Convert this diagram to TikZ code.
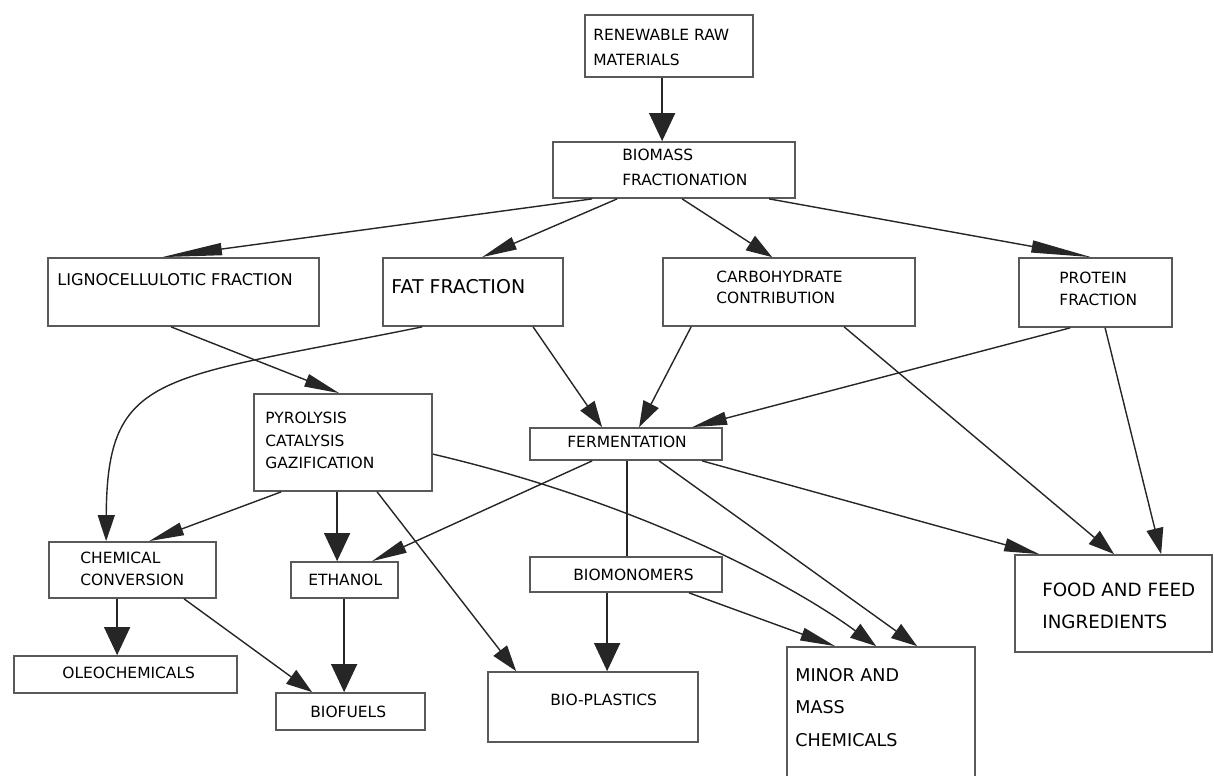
\documentclass[tikz,border=0pt]{standalone}
\usepackage{fontspec}
\setmainfont{DejaVu Sans}
\usetikzlibrary{arrows.meta,fit}

\tikzset{
  box/.style={draw=black!65, line width=1pt, inner sep=0pt},
  txt/.style={anchor=west, align=left, inner sep=0pt, font=\fontsize{8.8}{14.2}\selectfont},
  bigtxt/.style={txt, font=\fontsize{10.4}{18.2}\selectfont},
  link/.style={draw=black!85, line width=0.8pt},
  vhead/.style={link, -{Triangle[length=0.56cm, width=0.52cm]}},
  dhead/.style={link, -{Triangle[length=0.52cm, width=0.34cm]}},
  shead/.style={link, -{Triangle[length=0.70cm, width=0.26cm]}},
  lhead/.style={link, -{Triangle[length=1.20cm, width=0.24cm]}},
}

\begin{document}
\begin{tikzpicture}[x=0.02cm, y=-0.02cm]
      \useasboundingbox (0,0) rectangle (1214,775);

      \node[box, fit={(585,15) (753,77)}](RRM) {};
      \node[box, fit={(553,142) (795,198)}](BF) {};
      \node[box, fit={(48,258) (319,326)}](LIG) {};
      \node[box, fit={(383,258) (563,326)}](FAT) {};
      \node[box, fit={(663,258) (915,326)}](CARB) {};
      \node[box, fit={(1019,258) (1172,327)}](PROT) {};
      \node[box, fit={(254,394) (432,491)}](PYR) {};
      \node[box, fit={(530,428) (722,460)}](FERM) {};
      \node[box, fit={(49,542) (216,598)}](CHEM) {};
      \node[box, fit={(291,562) (398,598)}](ETH) {};
      \node[box, fit={(530,557) (722,592)}](BIOMON) {};
      \node[box, fit={(14,656) (237,693)}](OLEO) {};
      \node[box, fit={(276,693) (425,730)}](BIOF) {};
      \node[box, fit={(488,672) (698,742)}](BIOPL) {};
      \node[box, fit={(787,647) (975,778)}](MINOR) {};
      \node[box, fit={(1015,555) (1212,652)}](FOOD) {};

      \node[txt](RRMt) at (593,47.5) {RENEWABLE RAW\\MATERIALS};
      \node[txt](BFt) at (622,167.5) {BIOMASS\\FRACTIONATION};
      \node[txt, font=\fontsize{9.2}{14}\selectfont](LIGt) at (57,280) {LIGNOCELLULOTIC FRACTION};
      \node[txt, font=\fontsize{10.8}{14}\selectfont](FATt) at (391,287) {FAT FRACTION};
      \node[txt, font=\fontsize{8.8}{12}\selectfont](CARBt) at (716,287.5) {CARBOHYDRATE\\CONTRIBUTION};
      \node[txt, font=\fontsize{8.8}{12.5}\selectfont](PROTt) at (1059,289) {PROTEIN\\FRACTION};
      \node[txt, font=\fontsize{8.8}{12.8}\selectfont](PYRt) at (265,440.5) {PYROLYSIS\\CATALYSIS\\GAZIFICATION};
      \node[txt](FERMt) at (567,442) {FERMENTATION};
      \node[txt, font=\fontsize{8.8}{12.5}\selectfont](CHEMt) at (80,569) {CHEMICAL\\CONVERSION};
      \node[txt](ETHt) at (308,580) {ETHANOL};
      \node[txt](BIOMONt) at (573,575) {BIOMONOMERS};
      \node[txt](OLEOt) at (62,673) {OLEOCHEMICALS};
      \node[txt](BIOFt) at (310,712) {BIOFUELS};
      \node[txt](BIOPLt) at (550,700) {BIO-PLASTICS};
      \node[bigtxt, font=\fontsize{10}{18.4}\selectfont](MINORt) at (795,707.5) {MINOR AND\\MASS\\CHEMICALS};
      \node[bigtxt](FOODt) at (1042,606) {FOOD AND FEED\\INGREDIENTS};

      \draw[vhead] ([shift={(78,0)}]RRM.south west) -- ([shift={(110,0)}]BF.north west);
      \draw[lhead] ([shift={(40,0)}]BF.south west) -- ([shift={(115,0)}]LIG.north west);
      \draw[shead] ([shift={(65,0)}]BF.south west) -- ([shift={(100,0)}]FAT.north west);
      \draw[dhead] ([shift={(130,0)}]BF.south west) -- ([shift={(110,0)}]CARB.north west);
      \draw[lhead] ([shift={(217,0)}]BF.south west) -- ([shift={(73,0)}]PROT.north west);

      \draw[shead] ([shift={(124,0)}]LIG.south west) -- ([shift={(86,0)}]PYR.north west);
      \draw[dhead] ([shift={(40,0)}]FAT.south west) .. controls (160,380) and (107,370) .. ([shift={(58,0)}]CHEM.north west);
      \draw[dhead] ([shift={(151,0)}]FAT.south west) -- ([shift={(73,0)}]FERM.north west);
      \draw[dhead] ([shift={(29,0)}]CARB.south west) -- ([shift={(110,0)}]FERM.north west);
      \draw[shead] ([shift={(52,0)}]PROT.south west) -- ([shift={(163,0)}]FERM.north west);
      \draw[dhead] ([shift={(182,0)}]CARB.south west) -- ([shift={(100,0)}]FOOD.north west);
      \draw[dhead] ([shift={(87,0)}]PROT.south west) -- ([shift={(147,0)}]FOOD.north west);

      \draw[shead] ([shift={(28,0)}]PYR.south west) -- ([shift={(101,0)}]CHEM.north west);
      \draw[vhead] ([shift={(84,0)}]PYR.south west) -- ([shift={(47,0)}]ETH.north west);
      \draw[dhead] ([shift={(124,0)}]PYR.south west) -- ([shift={(29,0)}]BIOPL.north west);
      \draw[dhead] ([shift={(0,61)}]PYR.north east) .. controls (650,505) and (800,590) .. ([shift={(90,0)}]MINOR.north west);
      \draw[shead] ([shift={(63,0)}]FERM.south west) -- ([shift={(82,0)}]ETH.north west);
      \draw[link] ([shift={(98,0)}]FERM.south west) -- ([shift={(98,0)}]BIOMON.north west);
      \draw[dhead] ([shift={(130,0)}]FERM.south west) -- ([shift={(131,0)}]MINOR.north west);
      \draw[shead] ([shift={(173,0)}]FERM.south west) -- ([shift={(25,0)}]FOOD.north west);

      \draw[vhead] ([shift={(78,0)}]BIOMON.south west) -- ([shift={(120,0)}]BIOPL.north west);
      \draw[shead] ([shift={(160,0)}]BIOMON.south west) -- ([shift={(49,0)}]MINOR.north west);
      \draw[vhead] ([shift={(69,0)}]CHEM.south west) -- ([shift={(104,0)}]OLEO.north west);
      \draw[dhead] ([shift={(136,0)}]CHEM.south west) -- ([shift={(37,0)}]BIOF.north west);
      \draw[vhead] ([shift={(54,0)}]ETH.south west) -- ([shift={(69,0)}]BIOF.north west);
    \end{tikzpicture}
\end{document}
